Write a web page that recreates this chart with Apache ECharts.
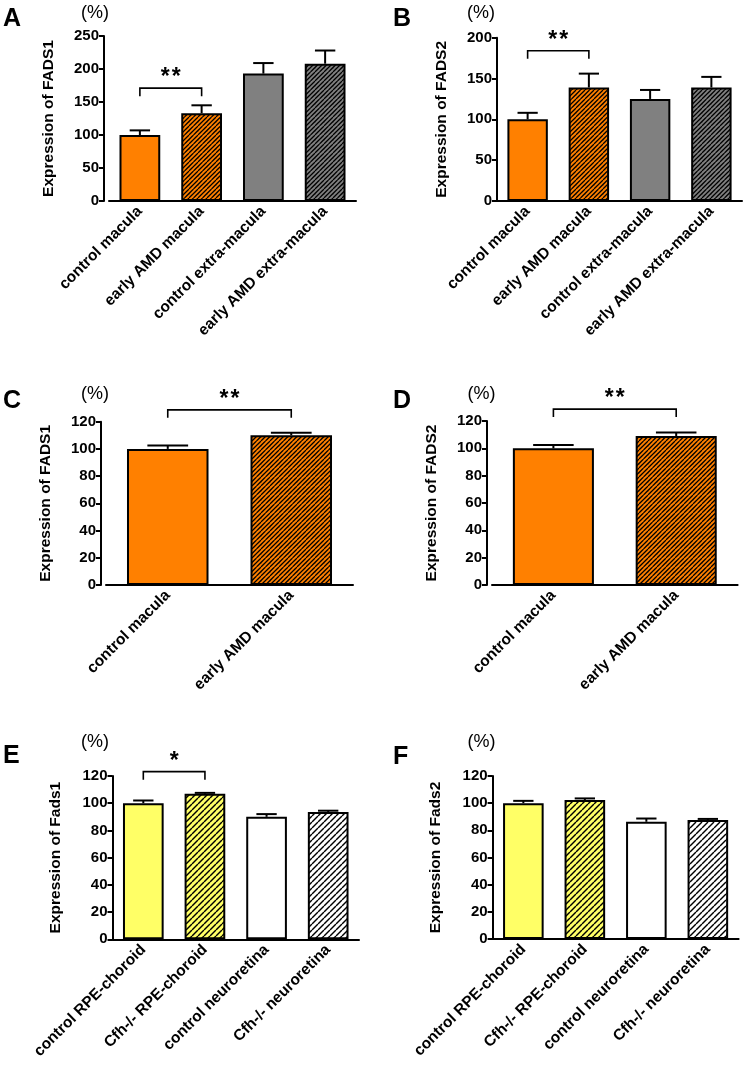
<!DOCTYPE html>
<html>
<head>
<meta charset="utf-8">
<script src="https://cdn.jsdelivr.net/npm/echarts@6/dist/echarts.min.js"></script>
<style>html,body{margin:0;padding:0;background:#fff}#c{width:744px;height:1068px}</style>
</head>
<body>
<div id="c"></div>
<script>
// ---------- data ----------
const catsAB = ['control macula', 'early AMD macula', 'control extra-macula', 'early AMD extra-macula'];
const catsCD = ['control macula', 'early AMD macula'];
const catsEF = ['control RPE-choroid', 'Cfh-/- RPE-choroid', 'control neuroretina', 'Cfh-/- neuroretina'];

const meanA = [100, 133, 193, 208];
const errA  = [7, 12, 16, 20];
const meanB = [100, 139, 125, 139];
const errB  = [8, 17, 11, 13];
const meanC = [100, 110];
const errC  = [2.5, 1.8];
const meanD = [100, 109];
const errD  = [2.5, 2.5];
const meanE = [100, 107, 90, 93.5];
const errE  = [2, 0.6, 2, 1];
const meanF = [100, 102.3, 86.3, 87.6];
const errF  = [1.7, 1.2, 2.4, 0.8];

const titlesY = ['Expression of FADS1', 'Expression of FADS2', 'Expression of FADS1', 'Expression of FADS2', 'Expression of Fads1', 'Expression of Fads2'];
const axisMax = [250, 200, 120, 120, 120, 120];
const axisStep = [50, 50, 20, 20, 20, 20];
// significance brackets: [fromIndex, toIndex, level, label]
const sigA = [[0, 1, 171, '**']];
const sigB = [[0, 1, 184, '**']];
const sigC = [[0, 1, 128.7, '**']];
const sigD = [[0, 1, 128.7, '**']];
const sigE = [[0, 1, 123.2, '*']];
const sigF = [];
const panelLetters = ['A', 'B', 'C', 'D', 'E', 'F'];

// ---------- styling helpers ----------
const FONT = 'Arial, "Liberation Sans", sans-serif';
function hatch(bg, size, count, lw) {
  const cv = document.createElement('canvas');
  cv.width = size; cv.height = size;
  const ctx = cv.getContext('2d');
  ctx.fillStyle = bg; ctx.fillRect(0, 0, size, size);
  ctx.strokeStyle = '#000'; ctx.lineWidth = lw;
  const step = size / count;
  for (let j = -count * 2; j <= count * 2; j++) {
    const x0 = j * step;
    ctx.beginPath(); ctx.moveTo(x0, size); ctx.lineTo(x0 + size, 0); ctx.stroke();
  }
  return { image: cv, repeat: 'repeat' };
}
const ORANGE = '#FF8000', GRAY = '#808080', YELLOW = '#FFFF66', WHITE = '#FFFFFF';
const fillsAB = [ORANGE, hatch(ORANGE, 9, 2, 1.25), GRAY, hatch(GRAY, 9, 2, 1.25)];
const fillsCD = [ORANGE, hatch(ORANGE, 9, 2, 1.25)];
const fillsEF = [YELLOW, hatch(YELLOW, 6, 1, 1.4), WHITE, hatch(WHITE, 6, 1, 1.4)];

const panels = [
  { cats: catsAB, mean: meanA, err: errA, sig: sigA, fills: fillsAB, grid: { left: 109, top: 36, width: 247, height: 165 }, yOff: 5, gap: 47, pct: [95, 13], let: [3, 19] },
  { cats: catsAB, mean: meanB, err: errB, sig: sigB, fills: fillsAB, grid: { left: 497, top: 37.7, width: 245, height: 163.3 }, yOff: 0, gap: 47, pct: [481, 13], let: [393, 19] },
  { cats: catsCD, mean: meanC, err: errC, sig: sigC, fills: fillsCD, grid: { left: 106, top: 421.7, width: 247, height: 163.3 }, yOff: 5, gap: 47, pct: [95, 394], let: [3, 401] },
  { cats: catsCD, mean: meanD, err: errD, sig: sigD, fills: fillsCD, grid: { left: 492, top: 421, width: 245.6, height: 164 }, yOff: 5, gap: 47, pct: [481.5, 394], let: [393, 401] },
  { cats: catsEF, mean: meanE, err: errE, sig: sigE, fills: fillsEF, grid: { left: 112.5, top: 776, width: 246.5, height: 163.3 }, yOff: 0, gap: 49, pct: [95, 742], let: [3, 756] },
  { cats: catsEF, mean: meanF, err: errF, sig: sigF, fills: fillsEF, grid: { left: 492.6, top: 776, width: 246, height: 163 }, yOff: 0, gap: 49, pct: [481.5, 742], let: [393, 757] }
];

const grids = [], xAxes = [], yAxes = [], series = [], graphics = [];
const BARW = 0.66;
panels.forEach((p, i) => {
  grids.push(Object.assign({ containLabel: false }, p.grid));
  xAxes.push({
    type: 'category', gridIndex: i, data: p.cats, boundaryGap: true,
    axisLine: { lineStyle: { color: '#000', width: 2 } },
    axisTick: { alignWithLabel: true, length: 5, lineStyle: { color: '#000', width: 2 } },
    axisLabel: { interval: 0, rotate: 45, margin: 8, color: '#000', fontWeight: 'bold', fontSize: 15.5, fontFamily: FONT },
    splitLine: { show: false }
  });
  yAxes.push({
    type: 'value', gridIndex: i, min: 0, max: axisMax[i], interval: axisStep[i], offset: p.yOff,
    name: titlesY[i], nameLocation: 'middle', nameGap: p.gap,
    nameTextStyle: { color: '#000', fontWeight: 'bold', fontSize: 15.5, fontFamily: FONT },
    axisLine: { show: true, lineStyle: { color: '#000', width: 2 } },
    axisTick: { show: true, length: 5, lineStyle: { color: '#000', width: 2 } },
    axisLabel: { margin: 5, color: '#000', fontWeight: 'bold', fontSize: 15, fontFamily: FONT },
    splitLine: { show: false }
  });
  series.push({
    type: 'bar', xAxisIndex: i, yAxisIndex: i, barWidth: (BARW * 100) + '%', z: 2,
    data: p.mean.map((v, k) => ({ value: v, itemStyle: { color: p.fills[k], borderColor: '#000', borderWidth: 2 } })),
    silent: true, animation: false
  });
  series.push({
    type: 'custom', xAxisIndex: i, yAxisIndex: i, z: 3, clip: false, silent: true, animation: false,
    data: p.mean.map((v, k) => [k, v, v + p.err[k]]),
    encode: { x: 0, y: [1, 2] },
    renderItem: function (params, api) {
      const c = api.value(0);
      const a = api.coord([c, api.value(1)]);
      const b = api.coord([c, api.value(2)]);
      const bw = api.size([1, 0])[0] * BARW;
      const half = bw / 4;
      const st = { stroke: '#000', lineWidth: 2, fill: null };
      return { type: 'group', children: [
        { type: 'line', shape: { x1: a[0], y1: a[1], x2: b[0], y2: b[1] }, style: st },
        { type: 'line', shape: { x1: b[0] - half, y1: b[1], x2: b[0] + half, y2: b[1] }, style: st }
      ] };
    }
  });
  if (p.sig.length) {
    series.push({
      type: 'custom', xAxisIndex: i, yAxisIndex: i, z: 4, clip: false, silent: true, animation: false,
      data: p.sig.map(s => [s[0], s[1], s[2]]),
      encode: { x: [0, 1], y: 2 },
      renderItem: function (params, api) {
        const l = api.coord([api.value(0), api.value(2)]);
        const r = api.coord([api.value(1), api.value(2)]);
        const drop = 8;
        const label = p.sig[params.dataIndex][3];
        const cx = (l[0] + r[0]) / 2;
        const n = label.length;
        const kids = [
          { type: 'polyline', shape: { points: [[l[0], l[1] + drop], [l[0], l[1]], [r[0], l[1]], [r[0], l[1] + drop]] }, style: { stroke: '#000', lineWidth: 1.6, fill: null } }
        ];
        for (let s = 0; s < n; s++) {
          kids.push({ type: 'text', x: cx + (s - (n - 1) / 2) * 11, y: l[1] - 10, style: { text: label[s], fill: '#000', font: 'bold 23px ' + FONT, align: 'center', verticalAlign: 'middle' } });
        }
        return { type: 'group', children: kids };
      }
    });
  }
  graphics.push({ type: 'text', x: p.pct[0], y: p.pct[1], style: { text: '(%)', fill: '#000', font: '18px ' + FONT, align: 'center', verticalAlign: 'middle' } });
  graphics.push({ type: 'text', x: p.let[0], y: p.let[1], style: { text: panelLetters[i], fill: '#000', font: 'bold 25px ' + FONT, align: 'left', verticalAlign: 'middle' } });
});

const chart = echarts.init(document.getElementById('c'), null, { renderer: 'canvas' });
chart.setOption({
  backgroundColor: '#fff',
  animation: false,
  grid: grids, xAxis: xAxes, yAxis: yAxes, series: series,
  graphic: graphics
});
</script>
</body>
</html>
